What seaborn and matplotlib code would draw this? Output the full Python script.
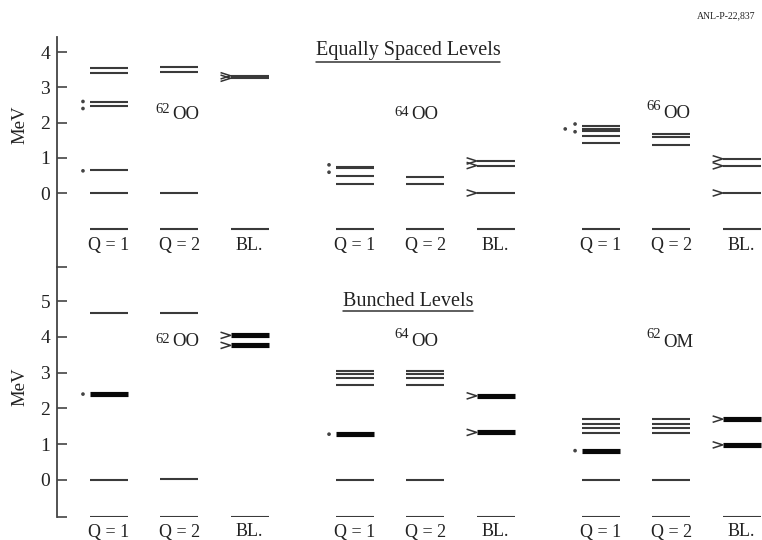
import numpy as np
import pandas as pd
import matplotlib
matplotlib.use("Agg")
import matplotlib.pyplot as plt
import matplotlib.transforms as mtransforms
from matplotlib.path import Path
from matplotlib.lines import Line2D
import seaborn as sns

sns.set_theme(style="white")
plt.rcParams["font.family"] = ["Liberation Serif", "DejaVu Serif"]

# ---------------- data ----------------
col_labels = ["Q = 1", "Q = 2", "BL."]
top_title = "Equally Spaced Levels"
bot_title = "Bunched Levels"
top_nuclei = [("62", "OO"), ("64", "OO"), ("66", "OO")]
bot_nuclei = [("62", "OO"), ("64", "OO"), ("62", "OM")]

# energy levels (MeV): [group][column] -> list
top_thin = [
    [[3.54, 3.40, 2.58, 2.47, 0.64, 0.0], [3.57, 3.43, 0.0], [3.33, 3.26]],
    [[0.75, 0.70, 0.49, 0.26], [0.46, 0.26], [0.91, 0.78, 0.0]],
    [[1.89, 1.83, 1.76, 1.62, 1.41], [1.69, 1.59, 1.36], [0.97, 0.77, 0.0]],
]
top_thick = [[[], [], []], [[], [], []], [[], [], []]]
top_base = -1.02

bot_thin = [
    [[4.67, 0.0], [4.67, 0.03], []],
    [[3.04, 2.95, 2.84, 2.65, 0.0], [3.04, 2.95, 2.84, 2.65, 0.0], []],
    [[1.70, 1.56, 1.44, 1.32, 0.0], [1.70, 1.56, 1.44, 1.32, 0.0], []],
]
bot_thick = [
    [[2.40], [], [4.04, 3.76]],
    [[1.28], [], [2.35, 1.33]],
    [[0.82], [], [1.70, 0.98]],
]
bot_base = -1.03

# asterisk dots: (group, MeV, slot)
top_dots = [(0, 2.60, 1), (0, 2.40, 1), (0, 0.63, 1),
            (1, 0.80, 1), (1, 0.59, 1),
            (2, 1.96, 1), (2, 1.74, 1), (2, 1.82, 2)]
bot_dots = [(0, 2.40, 1), (1, 1.28, 1), (2, 0.82, 1)]

# ---------------- layout ----------------
W, H = 762, 540
fig = plt.figure(figsize=(W / 100, H / 100), dpi=100)

PX0, PXU = 109.0, 70.3           # pixel of column 0, pixels per column unit
HALF = 19.0 / PXU                # half line width in column units
xlim = ((57 - PX0) / PXU, (W - PX0) / PXU)

def colx(g, c):
    return 3.5 * g + c

top_ax = fig.add_axes([57 / W, (H - 267) / H, (W - 57) / W, 230 / H])
bot_ax = fig.add_axes([57 / W, (H - 517) / H, (W - 57) / W, 250 / H])
top_ylim = (-(267 - 193) / 35.2, (193 - 37) / 35.2)
bot_ylim = (-(517 - 480) / 35.8, (480 - 267) / 35.8)

chevron = Path([(-1.0, 0.32), (0.0, 0.0), (-1.0, -0.32)],
               [Path.MOVETO, Path.LINETO, Path.LINETO])
dot_dx = {1: 0.10, 2: 0.24}
TXT = "#222222"

def build(thin, thick, base):
    rows = []
    uid = 0
    for g in range(3):
        for c in range(3):
            xc = colx(g, c)
            for kind, lst in (("thin", thin[g][c] + [base]), ("thick", thick[g][c])):
                for y in lst:
                    rows.append(dict(uid=uid, x=xc - HALF, y=y, kind=kind, g=g, c=c))
                    rows.append(dict(uid=uid, x=xc + HALF, y=y, kind=kind, g=g, c=c))
                    uid += 1
    return pd.DataFrame(rows)

def draw_panel(ax, thin, thick, base, dots, ylim, yticks, nuclei, title, title_y, ul_y,
               lab_y, nuc_pos):
    df = build(thin, thick, base)
    sns.lineplot(data=df, x="x", y="y", units="uid", estimator=None, sort=False,
                 hue="kind", palette={"thin": "#3a3a3a", "thick": "#080808"},
                 size="kind", sizes={"thin": 1.5, "thick": 3.7},
                 legend=False, ax=ax, solid_capstyle="butt")
    # chevrons on BL columns
    bl = df[(df["c"] == 2) & (df["y"] != base)].groupby("uid").first().reset_index()
    if len(bl):
        sns.scatterplot(data=bl, x="x", y="y", marker=chevron, s=210,
                        color="#333333", facecolor="none", edgecolor="#333333",
                        linewidth=1.1, legend=False, ax=ax, zorder=3)
    # asterisk dots
    dd = pd.DataFrame(dots, columns=["g", "y", "slot"])
    dd["x"] = [colx(g, 0) - HALF - dot_dx[s] for g, s in zip(dd["g"], dd["slot"])]
    sns.scatterplot(data=dd, x="x", y="y", s=7, color="#444444", edgecolor="none",
                    legend=False, ax=ax, zorder=3)

    ax.set_xlim(*xlim)
    ax.set_ylim(*ylim)
    ax.set_xticks([])
    ax.set_yticks([ylim[0]] + yticks)
    ax.set_yticklabels([""] + [str(t) for t in yticks])
    ax.tick_params(axis="y", direction="in", length=7, width=1.2, color="#444444",
                   labelsize=14, labelcolor=TXT, pad=5, left=True)
    for s in ("top", "right", "bottom"):
        ax.spines[s].set_visible(False)
    ax.spines["left"].set_color("#444444")
    ax.spines["left"].set_linewidth(1.3)
    ax.set_xlabel("")
    ax.set_ylabel("")
    ax.patch.set_alpha(0)

    tr = mtransforms.blended_transform_factory(ax.transData, fig.transFigure)
    for g in range(3):
        for c in range(3):
            ax.text(colx(g, c), 1 - lab_y / H, col_labels[c], transform=tr,
                    ha="center", va="center", fontsize=13, color=TXT, clip_on=False)
    for (sup, name), (lx, by_main, by_sup) in zip(nuclei, nuc_pos):
        fig.text(lx / W, 1 - by_sup / H, sup, fontsize=10.5, color=TXT,
                 ha="left", va="baseline")
        fig.text((lx + 17) / W, 1 - by_main / H, name, fontsize=13.5, color=TXT,
                 ha="left", va="baseline")
    t = fig.text(408 / W, 1 - title_y / H, title, fontsize=14.5, color=TXT,
                 ha="center", va="center")
    return t

t1 = draw_panel(top_ax, top_thin, top_thick, top_base, top_dots, top_ylim,
                [0, 1, 2, 3, 4], top_nuclei, top_title, 51, 62, 246,
                [(155, 119, 113), (394, 119, 116), (646, 118, 110)])
t2 = draw_panel(bot_ax, bot_thin, bot_thick, bot_base, bot_dots, bot_ylim,
                [0, 1, 2, 3, 4, 5], bot_nuclei, bot_title, 302, 311, 532,
                [(155, 346, 343), (394, 346, 338), (646, 347, 338)])

fig.text(20 / W, 1 - 125 / H, "MeV", rotation=90, fontsize=13.5, color=TXT,
         ha="center", va="center")
fig.text(20 / W, 1 - 387 / H, "MeV", rotation=90, fontsize=13.5, color=TXT,
         ha="center", va="center")
fig.text(697 / W, 1 - 16 / H, "ANL-P-22,837", fontsize=7, color=TXT,
         ha="left", va="center")

fig.canvas.draw()
r = fig.canvas.get_renderer()
for t, uy in ((t1, 62), (t2, 311)):
    bb = t.get_window_extent(renderer=r)
    fig.add_artist(Line2D([bb.x0 / W, bb.x1 / W], [1 - uy / H, 1 - uy / H],
                          transform=fig.transFigure, color="#333333", lw=1.1))

fig.savefig("out.png", dpi=100)
